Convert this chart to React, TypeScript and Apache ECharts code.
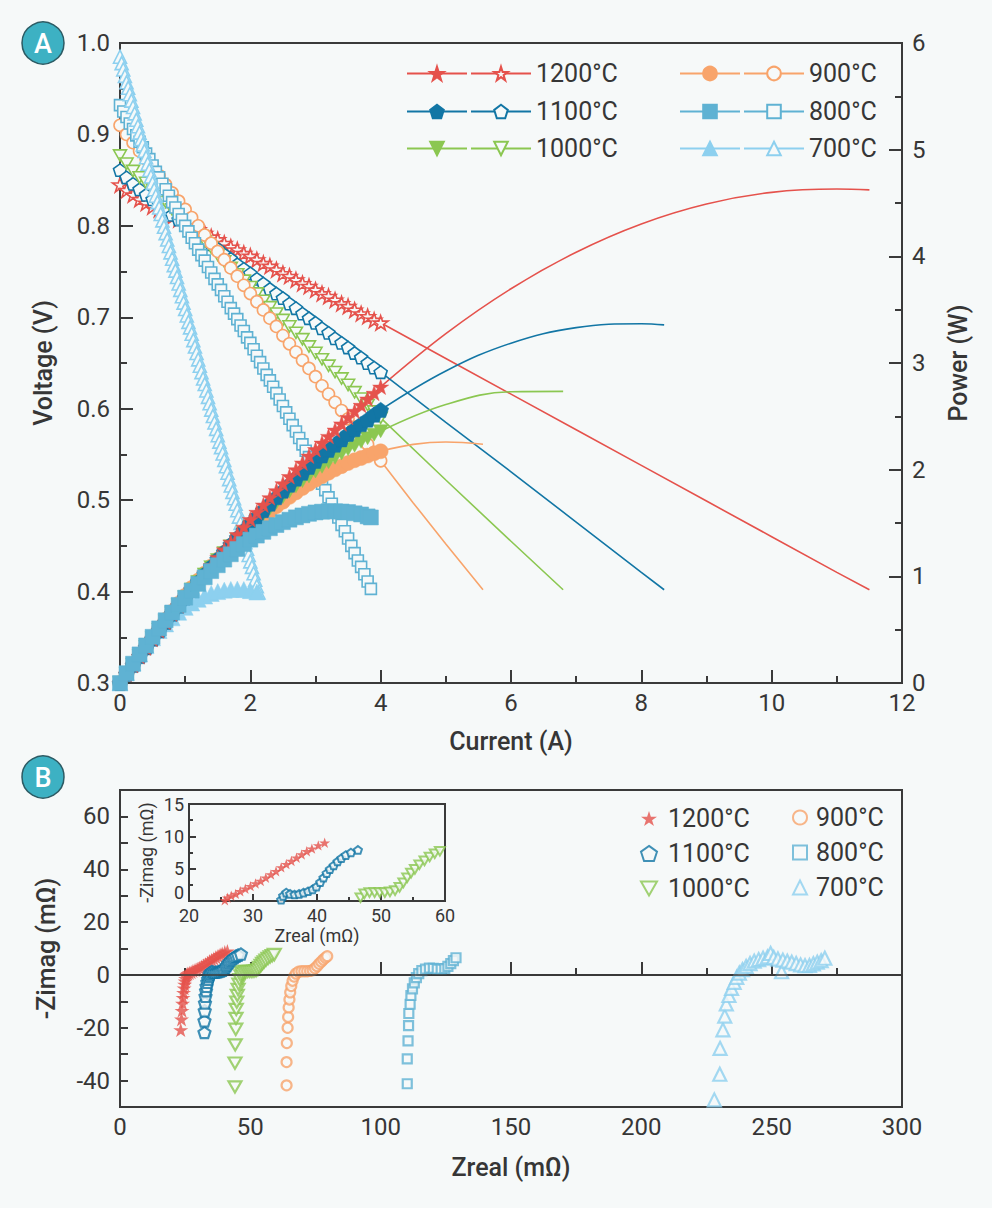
import React, { useEffect, useRef } from "react";
import * as echarts from "echarts";

// ---------- Panel A : measured I-V / I-P data ----------
const currentA = [0, 0.1, 0.2, 0.3, 0.4, 0.5, 0.6, 0.7, 0.8, 0.9, 1.0, 1.1, 1.2, 1.3, 1.4, 1.5, 1.6, 1.7, 1.8, 1.9, 2.0, 2.1, 2.2, 2.3, 2.4, 2.5, 2.6, 2.7, 2.8, 2.9, 3.0, 3.1, 3.2, 3.3, 3.4, 3.5, 3.6, 3.7, 3.8, 3.9, 4.0];

const voltage1200 = [0.845, 0.839, 0.834, 0.829, 0.825, 0.821, 0.818, 0.814, 0.810, 0.807, 0.803, 0.799, 0.796, 0.792, 0.788, 0.785, 0.781, 0.777, 0.774, 0.770, 0.767, 0.763, 0.759, 0.756, 0.752, 0.748, 0.745, 0.741, 0.737, 0.734, 0.730, 0.726, 0.723, 0.719, 0.715, 0.712, 0.708, 0.704, 0.701, 0.697, 0.694];
const power1200 = [0, 0.084, 0.167, 0.249, 0.330, 0.411, 0.491, 0.570, 0.648, 0.726, 0.803, 0.879, 0.955, 1.030, 1.103, 1.178, 1.250, 1.321, 1.393, 1.463, 1.534, 1.602, 1.670, 1.739, 1.805, 1.870, 1.937, 2.001, 2.064, 2.129, 2.190, 2.251, 2.314, 2.373, 2.431, 2.492, 2.549, 2.605, 2.664, 2.718, 2.776];

const voltage1100 = [0.861, 0.853, 0.846, 0.840, 0.834, 0.829, 0.823, 0.818, 0.812, 0.807, 0.802, 0.796, 0.791, 0.785, 0.780, 0.775, 0.769, 0.764, 0.758, 0.753, 0.748, 0.742, 0.737, 0.731, 0.726, 0.721, 0.715, 0.710, 0.704, 0.699, 0.694, 0.688, 0.683, 0.677, 0.672, 0.667, 0.661, 0.656, 0.650, 0.645, 0.640];
const power1100 = [0, 0.085, 0.169, 0.252, 0.334, 0.415, 0.494, 0.573, 0.650, 0.726, 0.802, 0.876, 0.949, 1.021, 1.092, 1.163, 1.230, 1.299, 1.364, 1.431, 1.496, 1.558, 1.621, 1.681, 1.742, 1.803, 1.859, 1.917, 1.971, 2.027, 2.082, 2.133, 2.186, 2.234, 2.285, 2.335, 2.380, 2.427, 2.470, 2.516, 2.560];

const voltage1000 = [0.877, 0.868, 0.860, 0.853, 0.847, 0.840, 0.833, 0.826, 0.818, 0.811, 0.804, 0.797, 0.790, 0.783, 0.776, 0.768, 0.761, 0.754, 0.747, 0.740, 0.733, 0.726, 0.718, 0.711, 0.704, 0.697, 0.690, 0.683, 0.676, 0.668, 0.661, 0.654, 0.647, 0.640, 0.633, 0.626, 0.618, 0.611, 0.604, 0.597, 0.590];
const power1000 = [0, 0.087, 0.172, 0.256, 0.339, 0.420, 0.500, 0.578, 0.654, 0.730, 0.804, 0.877, 0.948, 1.018, 1.086, 1.152, 1.218, 1.282, 1.345, 1.406, 1.466, 1.525, 1.580, 1.635, 1.690, 1.743, 1.794, 1.844, 1.893, 1.937, 1.983, 2.027, 2.070, 2.112, 2.152, 2.191, 2.225, 2.261, 2.295, 2.328, 2.360];

const voltage900 = [0.910, 0.900, 0.891, 0.882, 0.873, 0.864, 0.855, 0.845, 0.836, 0.827, 0.818, 0.809, 0.800, 0.790, 0.781, 0.772, 0.763, 0.754, 0.745, 0.735, 0.726, 0.717, 0.708, 0.699, 0.690, 0.680, 0.671, 0.662, 0.653, 0.644, 0.635, 0.625, 0.616, 0.607, 0.598, 0.589, 0.580, 0.570, 0.561, 0.552, 0.543];
const power900 = [0, 0.090, 0.178, 0.265, 0.349, 0.432, 0.513, 0.592, 0.669, 0.744, 0.818, 0.890, 0.960, 1.027, 1.093, 1.158, 1.221, 1.282, 1.341, 1.397, 1.452, 1.506, 1.558, 1.608, 1.656, 1.700, 1.745, 1.787, 1.828, 1.868, 1.905, 1.938, 1.971, 2.003, 2.033, 2.062, 2.088, 2.109, 2.132, 2.153, 2.172];

const current800V = [0, 0.05, 0.1, 0.15, 0.2, 0.25, 0.3, 0.35, 0.4, 0.45, 0.5, 0.55, 0.6, 0.65, 0.7, 0.75, 0.8, 0.85, 0.9, 0.95, 1.0, 1.05, 1.1, 1.15, 1.2, 1.25, 1.3, 1.35, 1.4, 1.45, 1.5, 1.55, 1.6, 1.65, 1.7, 1.75, 1.8, 1.85, 1.9, 1.95, 2.0, 2.05, 2.1, 2.15, 2.2, 2.25, 2.3, 2.35, 2.4, 2.45, 2.5, 2.55, 2.6, 2.65, 2.7, 2.75, 2.8, 2.85, 2.9, 2.95, 3.0, 3.05, 3.1, 3.15, 3.2, 3.25, 3.3, 3.35, 3.4, 3.45, 3.5, 3.55, 3.6, 3.65, 3.7, 3.75, 3.8, 3.85];
const voltage800 = [0.932, 0.925, 0.919, 0.912, 0.906, 0.899, 0.892, 0.886, 0.879, 0.873, 0.866, 0.859, 0.853, 0.846, 0.840, 0.833, 0.826, 0.820, 0.813, 0.807, 0.800, 0.794, 0.787, 0.781, 0.774, 0.768, 0.762, 0.755, 0.749, 0.742, 0.736, 0.730, 0.723, 0.717, 0.710, 0.704, 0.698, 0.691, 0.685, 0.678, 0.672, 0.665, 0.658, 0.651, 0.644, 0.637, 0.631, 0.624, 0.617, 0.610, 0.603, 0.596, 0.589, 0.582, 0.575, 0.568, 0.561, 0.554, 0.547, 0.540, 0.533, 0.526, 0.518, 0.511, 0.503, 0.496, 0.488, 0.481, 0.473, 0.466, 0.458, 0.450, 0.442, 0.434, 0.427, 0.419, 0.411, 0.403];
const current800P = [0, 0.1, 0.2, 0.3, 0.4, 0.5, 0.6, 0.7, 0.8, 0.9, 1.0, 1.1, 1.2, 1.3, 1.4, 1.5, 1.6, 1.7, 1.8, 1.9, 2.0, 2.1, 2.2, 2.3, 2.4, 2.5, 2.6, 2.7, 2.8, 2.9, 3.0, 3.1, 3.2, 3.3, 3.4, 3.5, 3.6, 3.7, 3.8, 3.85];
const power800 = [0, 0.092, 0.181, 0.268, 0.352, 0.433, 0.512, 0.588, 0.661, 0.732, 0.800, 0.866, 0.929, 0.991, 1.049, 1.104, 1.157, 1.207, 1.256, 1.302, 1.344, 1.382, 1.417, 1.451, 1.481, 1.508, 1.531, 1.553, 1.571, 1.586, 1.599, 1.606, 1.610, 1.610, 1.608, 1.603, 1.591, 1.580, 1.562, 1.552];

const current700V = [0, 0.025, 0.05, 0.075, 0.1, 0.125, 0.15, 0.175, 0.2, 0.225, 0.25, 0.275, 0.3, 0.325, 0.35, 0.375, 0.4, 0.425, 0.45, 0.475, 0.5, 0.525, 0.55, 0.575, 0.6, 0.625, 0.65, 0.675, 0.7, 0.725, 0.75, 0.775, 0.8, 0.825, 0.85, 0.875, 0.9, 0.925, 0.95, 0.975, 1.0, 1.025, 1.05, 1.075, 1.1, 1.125, 1.15, 1.175, 1.2, 1.225, 1.25, 1.275, 1.3, 1.325, 1.35, 1.375, 1.4, 1.425, 1.45, 1.475, 1.5, 1.525, 1.55, 1.575, 1.6, 1.625, 1.65, 1.675, 1.7, 1.725, 1.75, 1.775, 1.8, 1.825, 1.85, 1.875, 1.9, 1.925, 1.95, 1.975, 2.0, 2.025, 2.05, 2.075, 2.1, 2.125];
const voltage700 = [0.985, 0.978, 0.971, 0.964, 0.957, 0.951, 0.944, 0.937, 0.930, 0.923, 0.916, 0.909, 0.902, 0.895, 0.889, 0.882, 0.875, 0.868, 0.861, 0.854, 0.847, 0.840, 0.833, 0.826, 0.820, 0.813, 0.806, 0.799, 0.792, 0.785, 0.778, 0.771, 0.764, 0.757, 0.751, 0.744, 0.737, 0.730, 0.723, 0.716, 0.709, 0.702, 0.695, 0.689, 0.682, 0.675, 0.668, 0.661, 0.654, 0.647, 0.640, 0.633, 0.627, 0.620, 0.613, 0.606, 0.599, 0.592, 0.585, 0.578, 0.571, 0.564, 0.558, 0.551, 0.544, 0.537, 0.530, 0.523, 0.516, 0.509, 0.502, 0.496, 0.489, 0.482, 0.475, 0.468, 0.461, 0.454, 0.447, 0.440, 0.433, 0.427, 0.420, 0.413, 0.406, 0.399];
const current700P = [0, 0.1, 0.2, 0.3, 0.4, 0.5, 0.6, 0.7, 0.8, 0.9, 1.0, 1.1, 1.2, 1.3, 1.4, 1.5, 1.6, 1.7, 1.8, 1.9, 2.0, 2.1];
const power700 = [0, 0.096, 0.186, 0.271, 0.350, 0.424, 0.492, 0.554, 0.611, 0.663, 0.709, 0.750, 0.785, 0.815, 0.839, 0.857, 0.870, 0.877, 0.880, 0.876, 0.866, 0.853];

// fitted (line-only) continuation beyond the measured range
const ext1200I = [4.0, 5, 6, 7, 8, 9, 10, 11, 11.5];
const ext1200V = [0.694, 0.655, 0.616, 0.577, 0.538, 0.499, 0.460, 0.421, 0.402];
const ext1200P = [2.776, 3.275, 3.696, 4.039, 4.304, 4.491, 4.600, 4.631, 4.623];
const ext1100I = [4.0, 5, 6, 7, 8, 8.35];
const ext1100V = [0.640, 0.585, 0.531, 0.476, 0.421, 0.402];
const ext1100P = [2.560, 2.925, 3.186, 3.332, 3.368, 3.357];
const ext1000I = [4.0, 5, 6, 6.8];
const ext1000V = [0.590, 0.522, 0.455, 0.402];
const ext1000P = [2.360, 2.610, 2.730, 2.734];
const ext900I = [4.0, 4.5, 5.0, 5.57];
const ext900V = [0.543, 0.497, 0.452, 0.402];
const ext900P = [2.172, 2.237, 2.260, 2.239];

// ---------- Panel B : impedance (Nyquist) data ----------
const zreal1200 = [23.3, 23.6, 23.8, 24.0, 24.2, 24.4, 24.6, 24.8, 25.0, 25.2, 25.4, 25.6, 26.0, 26.6, 27.3, 28.0, 28.8, 29.6, 30.4, 31.2, 32.0, 32.8, 33.6, 34.4, 35.2, 36.0, 36.8, 37.6, 38.4, 39.2, 40.2, 41.2];
const zimag1200 = [-20.8, -16.8, -13.5, -10.8, -8.6, -6.7, -5.0, -3.6, -2.4, -1.4, -0.6, 0.1, 0.5, 0.8, 1.1, 1.5, 1.9, 2.3, 2.7, 3.1, 3.6, 4.1, 4.6, 5.2, 5.7, 6.2, 6.7, 7.2, 7.7, 8.1, 8.6, 9.0];
const zreal1100 = [32.4, 32.4, 32.5, 32.6, 32.8, 33.0, 33.2, 33.5, 33.8, 34.1, 34.4, 34.7, 35.2, 35.8, 36.5, 37.2, 37.9, 38.6, 39.3, 39.9, 40.5, 41.0, 41.5, 42.0, 42.6, 43.2, 43.8, 44.5, 45.3, 46.4];
const zimag1100 = [-21.8, -17.4, -13.6, -10.6, -8.1, -6.0, -4.3, -2.8, -1.6, -0.6, 0.2, 0.8, 1.3, 1.1, 1.0, 1.1, 1.3, 1.5, 1.8, 2.2, 2.9, 3.6, 4.3, 4.9, 5.5, 6.1, 6.6, 7.1, 7.5, 7.9];
const zreal1000 = [44.1, 44.1, 44.2, 44.4, 44.5, 44.6, 44.8, 45.0, 45.3, 45.6, 46.0, 46.4, 46.8, 47.4, 48.2, 49.0, 49.8, 50.6, 51.4, 52.2, 52.9, 53.5, 54.1, 54.7, 55.3, 56.0, 56.8, 57.6, 58.4, 59.2];
const zimag1000 = [-42.4, -33.4, -26.5, -20.6, -16.5, -13.1, -10.3, -7.8, -5.5, -3.5, -1.8, -0.4, 0.5, 1.1, 1.3, 1.3, 1.3, 1.3, 1.4, 1.6, 2.1, 2.8, 3.6, 4.3, 4.9, 5.6, 6.2, 6.8, 7.3, 7.7];
const zreal900 = [63.9, 63.9, 64.0, 64.3, 64.5, 64.7, 65.0, 65.3, 65.7, 66.2, 66.8, 67.5, 68.5, 69.6, 70.7, 71.8, 72.9, 73.9, 74.8, 75.6, 76.4, 77.2, 78.0, 78.8, 79.5];
const zimag900 = [-41.8, -33.0, -25.8, -20.0, -15.9, -12.3, -9.3, -6.6, -4.2, -2.2, -0.6, 0.5, 1.2, 1.4, 1.4, 1.4, 1.5, 1.8, 2.5, 3.3, 4.2, 5.0, 5.8, 6.5, 7.1];
const zreal800 = [110.2, 110.2, 110.5, 110.7, 110.8, 111.3, 111.6, 112.2, 112.9, 113.7, 114.6, 115.8, 117.2, 118.7, 120.2, 121.7, 123.2, 124.6, 125.8, 126.9, 127.9, 128.9];
const zimag800 = [-41.2, -31.8, -25.0, -19.2, -14.6, -11.1, -7.8, -5.3, -3.0, -1.0, 0.5, 1.6, 2.2, 2.6, 2.5, 2.2, 2.2, 2.4, 3.2, 4.3, 5.4, 6.5];
const zreal700 = [228.0, 230.1, 230.2, 231.3, 232.0, 232.6, 233.6, 234.6, 235.6, 236.6, 237.6, 238.8, 240.2, 241.7, 243.3, 245.0, 246.7, 248.4, 249.6, 250.8, 252.4, 253.8, 254.3, 256.0, 257.7, 259.4, 261.1, 262.8, 264.5, 266.0, 267.5, 269.0, 270.4];
const zimag700 = [-47.3, -37.6, -27.8, -20.8, -15.6, -11.0, -7.8, -5.1, -2.8, -0.9, 0.7, 2.0, 3.2, 4.3, 5.2, 5.8, 6.3, 6.8, 8.1, 6.6, 6.0, 1.2, 5.6, 5.2, 4.8, 4.3, 3.8, 3.5, 3.6, 4.2, 4.8, 5.4, 6.3];

const temperatures = ["1200", "1100", "1000", "900", "800", "700"];

// ---------- styling ----------
const BG = "#f6f9f9";
const AXIS = "#3a3a3a";
const TEXT = "#363636";
const FONT = "Roboto, 'Noto Sans', 'DejaVu Sans', sans-serif";
const COLORS: Record<string, string> = {
  "1200": "#e5524c",
  "1100": "#1276a5",
  "1000": "#8bc751",
  "900": "#f8a46b",
  "800": "#5fb2d3",
  "700": "#8dd0ef",
};
const STAR = "path://M50 0 L61.23 34.55 L97.55 34.55 L68.17 55.9 L79.39 90.45 L50 69.1 L20.61 90.45 L31.83 55.9 L2.45 34.55 L38.77 34.55 Z";
const PENT = "path://M50 0 L97.55 34.55 L79.39 90.45 L20.61 90.45 L2.45 34.55 Z";
const TRI_DOWN = "path://M0 0 L100 0 L50 86.6 Z";

const SYMBOLS: Record<string, string> = {
  "1200": STAR,
  "1100": PENT,
  "1000": TRI_DOWN,
  "900": "circle",
  "800": "rect",
  "700": "triangle",
};

function pairs(xs: number[], ys: number[]) {
  return xs.map((x, i) => [x, ys[i]]);
}

function buildOption() {
  const topData: Record<string, any> = {
    "1200": { vI: currentA, vV: voltage1200, pI: currentA, pP: power1200, eI: ext1200I, eV: ext1200V, eP: ext1200P, vS: 15, pS: 16 },
    "1100": { vI: currentA, vV: voltage1100, pI: currentA, pP: power1100, eI: ext1100I, eV: ext1100V, eP: ext1100P, vS: 13, pS: 16 },
    "1000": { vI: currentA, vV: voltage1000, pI: currentA, pP: power1000, eI: ext1000I, eV: ext1000V, eP: ext1000P, vS: 13, pS: 15 },
    "900": { vI: currentA, vV: voltage900, pI: currentA, pP: power900, eI: ext900I, eV: ext900V, eP: ext900P, vS: 12, pS: 15 },
    "800": { vI: current800V, vV: voltage800, pI: current800P, pP: power800, vS: 11, pS: 15 },
    "700": { vI: current700V, vV: voltage700, pI: current700P, pP: power700, vS: 13, pS: 16 },
  };
  const bData: Record<string, any> = {
    "1200": { x: zreal1200, y: zimag1200, s: 15, filled: true },
    "1100": { x: zreal1100, y: zimag1100, s: 12, filled: false },
    "1000": { x: zreal1000, y: zimag1000, s: 13, filled: false },
    "900": { x: zreal900, y: zimag900, s: 10, filled: false },
    "800": { x: zreal800, y: zimag800, s: 9, filled: false },
    "700": { x: zreal700, y: zimag700, s: 13, filled: false },
  };

  const series: any[] = [];

  // extension lines
  for (const t of temperatures) {
    const d = topData[t];
    if (!d.eI) continue;
    const c = COLORS[t];
    series.push({
      type: "line", name: "eV" + t, xAxisIndex: 0, yAxisIndex: 0, silent: true,
      data: pairs(d.eI, d.eV), symbol: "none", lineStyle: { color: c, width: 1.6 },
    });
    series.push({
      type: "line", name: "eP" + t, xAxisIndex: 0, yAxisIndex: 1, silent: true, smooth: 0.4,
      data: pairs(d.eI, d.eP), symbol: "none", lineStyle: { color: c, width: 1.6 },
    });
  }
  // voltage (open markers)
  for (const t of temperatures) {
    const d = topData[t];
    const c = COLORS[t];
    series.push({
      type: "line", name: "V" + t, xAxisIndex: 0, yAxisIndex: 0,
      data: pairs(d.vI, d.vV),
      symbol: SYMBOLS[t], symbolKeepAspect: true, symbolSize: d.vS,
      itemStyle: { color: BG, borderColor: c, borderWidth: 1.6 },
      lineStyle: { color: c, width: 1.6 },
    });
  }
  // power (filled markers)
  for (const t of ["700", "900", "1000", "1100", "1200", "800"]) {
    const d = topData[t];
    const c = COLORS[t];
    series.push({
      type: "line", name: "P" + t, xAxisIndex: 0, yAxisIndex: 1,
      data: pairs(d.pI, d.pP),
      symbol: SYMBOLS[t], symbolKeepAspect: true, symbolSize: d.pS,
      itemStyle: { color: c, borderColor: c, borderWidth: 0.5 },
      lineStyle: { color: c, width: 1.6 },
    });
  }
  // panel B main
  for (const t of temperatures) {
    const d = bData[t];
    const c = COLORS[t];
    const s: any = {
      type: "scatter", name: "B" + t, xAxisIndex: 1, yAxisIndex: 2,
      data: pairs(d.x, d.y),
      symbol: SYMBOLS[t], symbolKeepAspect: true, symbolSize: d.s,
      itemStyle: d.filled ? { color: c } : { color: BG, borderColor: c, borderWidth: 2.2 },
    };
    if (t === "1200") {
      s.markLine = {
        silent: true, symbol: ["none", "none"], label: { show: false },
        lineStyle: { color: AXIS, width: 1.5, type: "solid" },
        data: [{ yAxis: 0 }],
      };
    }
    series.push(s);
  }
  // panel B inset
  const insetSize: Record<string, number> = { "1200": 11, "1100": 8, "1000": 10 };
  for (const t of ["1200", "1100", "1000"]) {
    const d = bData[t];
    const c = COLORS[t];
    series.push({
      type: "scatter", name: "I" + t, xAxisIndex: 2, yAxisIndex: 3, clip: true,
      data: pairs(d.x, d.y),
      symbol: SYMBOLS[t], symbolKeepAspect: true, symbolSize: insetSize[t],
      itemStyle: d.filled ? { color: c } : { color: BG, borderColor: c, borderWidth: 2 },
    });
  }

  const labelFmt = (name: string) => (name.startsWith("P") ? "" : name.slice(1) + "°C");
  const legendText = { fontSize: 25, color: TEXT, fontFamily: FONT };
  const topLegend = (t: string, left: number, top: number) => ({
    data: ["P" + t, "V" + t], left, top, orient: "horizontal", itemWidth: 60, itemHeight: 17, itemGap: 2,
    selectedMode: false, formatter: labelFmt, textStyle: legendText, padding: 0,
  });
  const legends = [
    topLegend("1200", 406, 61), topLegend("1100", 406, 99), topLegend("1000", 406, 136),
    topLegend("900", 679, 61), topLegend("800", 679, 99), topLegend("700", 679, 136),
    {
      data: ["B1200", "B1100", "B1000"], left: 640, top: 806, orient: "vertical", itemWidth: 16, itemHeight: 16,
      itemGap: 10, selectedMode: false, formatter: labelFmt, textStyle: { ...legendText, padding: [0, 0, 0, 6] }, padding: 0,
    },
    {
      data: ["B900", "B800", "B700"], left: 792, top: 805, orient: "vertical", itemWidth: 14, itemHeight: 14,
      itemGap: 10, selectedMode: false, formatter: labelFmt, textStyle: { ...legendText, padding: [0, 0, 0, 4] }, padding: 0,
    },
  ];

  const axisLine = { show: true, lineStyle: { color: AXIS, width: 2 } };
  const tick = (len: number) => ({ show: true, inside: true, length: len, lineStyle: { color: AXIS, width: 2 } });
  const minor = (len: number) => ({ show: true, splitNumber: 2, length: len, lineStyle: { color: AXIS, width: 2 } });
  const lab = (size: number, margin = 9) => ({ fontSize: size, color: TEXT, fontFamily: FONT, margin });
  const nameStyle = (size: number) => ({ fontSize: size, color: TEXT, fontFamily: FONT, fontWeight: 500 });

  return {
    animation: false,
    backgroundColor: BG,
    grid: [
      { left: 120, top: 43, width: 782, height: 640, show: true, borderColor: AXIS, borderWidth: 2, backgroundColor: "transparent" },
      { left: 120, top: 790, width: 782, height: 317, show: true, borderColor: AXIS, borderWidth: 2, backgroundColor: "transparent" },
      { left: 189, top: 804, width: 256, height: 97, show: true, borderColor: AXIS, borderWidth: 2, backgroundColor: BG },
    ],
    xAxis: [
      {
        type: "value", gridIndex: 0, min: 0, max: 12, interval: 2,
        axisLine, axisTick: tick(13), minorTick: minor(7), splitLine: { show: false }, minorSplitLine: { show: false },
        axisLabel: lab(24, 8),
        name: "Current (A)", nameLocation: "middle", nameGap: 46, nameTextStyle: nameStyle(25),
      },
      {
        type: "value", gridIndex: 1, min: 0, max: 300, interval: 50,
        axisLine, axisTick: tick(13), minorTick: minor(7), splitLine: { show: false },
        axisLabel: lab(24, 8),
        name: "Zreal (mΩ)", nameLocation: "middle", nameGap: 48, nameTextStyle: nameStyle(25),
      },
      {
        type: "value", gridIndex: 2, min: 20, max: 60, interval: 10,
        axisLine, axisTick: tick(7), minorTick: minor(4), splitLine: { show: false },
        axisLabel: lab(18, 5),
        name: "Zreal (mΩ)", nameLocation: "middle", nameGap: 25, nameTextStyle: { ...nameStyle(18), fontWeight: 400 },
      },
    ],
    yAxis: [
      {
        type: "value", gridIndex: 0, min: 0.3, max: 1.0, interval: 0.1,
        axisLine, axisTick: tick(13), minorTick: minor(7), splitLine: { show: false },
        axisLabel: { ...lab(24, 10), formatter: (v: number) => v.toFixed(1) },
        name: "Voltage (V)", nameLocation: "middle", nameRotate: 90, nameGap: 64, nameTextStyle: nameStyle(25),
      },
      {
        type: "value", gridIndex: 0, position: "right", min: 0, max: 6, interval: 1,
        axisLine, axisTick: tick(13), minorTick: minor(7), splitLine: { show: false },
        axisLabel: lab(24, 10),
        name: "Power (W)", nameLocation: "middle", nameRotate: 90, nameGap: 44, nameTextStyle: nameStyle(25),
      },
      {
        type: "value", gridIndex: 1, min: -50, max: 70, interval: 10,
        axisLine, axisTick: tick(8), splitLine: { show: false },
        axisLabel: { ...lab(24, 10), formatter: (v: number) => (Math.round(v) % 20 === 0 ? String(Math.round(v)) : "") },
        name: "-Zimag (mΩ)", nameLocation: "middle", nameRotate: 90, nameGap: 61, nameTextStyle: nameStyle(25),
      },
      {
        type: "value", gridIndex: 2, min: 0, max: 15, interval: 5,
        axisLine, axisTick: tick(7), minorTick: minor(4), splitLine: { show: false },
        axisLabel: { ...lab(18, 5), verticalAlignMinLabel: "bottom" },
        name: "-Zimag (mΩ)", nameLocation: "middle", nameRotate: 90, nameGap: 34, nameTextStyle: { ...nameStyle(18), fontWeight: 400 },
      },
    ],
    legend: legends,
    graphic: [
      { type: "circle", shape: { cx: 43, cy: 43, r: 21 }, style: { fill: "#3db1c3", stroke: "#2c5b64", lineWidth: 1.5 } },
      { type: "text", x: 43, y: 44, style: { text: "A", fill: "#ffffff", fontSize: 27, fontFamily: FONT, fontWeight: 500, align: "center", verticalAlign: "middle" } },
      { type: "circle", shape: { cx: 43, cy: 777, r: 21 }, style: { fill: "#3db1c3", stroke: "#2c5b64", lineWidth: 1.5 } },
      { type: "text", x: 43, y: 778, style: { text: "B", fill: "#ffffff", fontSize: 27, fontFamily: FONT, fontWeight: 500, align: "center", verticalAlign: "middle" } },
    ],
    series,
  };
}

export default function App() {
  const ref = useRef<HTMLDivElement>(null);
  useEffect(() => {
    document.body.style.margin = "0";
    document.body.style.background = BG;
    const chart = echarts.init(ref.current as HTMLDivElement, null, { renderer: "svg" });
    chart.setOption(buildOption() as any);
    return () => chart.dispose();
  }, []);
  return (
    <div
      ref={ref}
      style={{ position: "absolute", left: 0, top: 0, width: 992, height: 1208, background: BG }}
    />
  );
}
